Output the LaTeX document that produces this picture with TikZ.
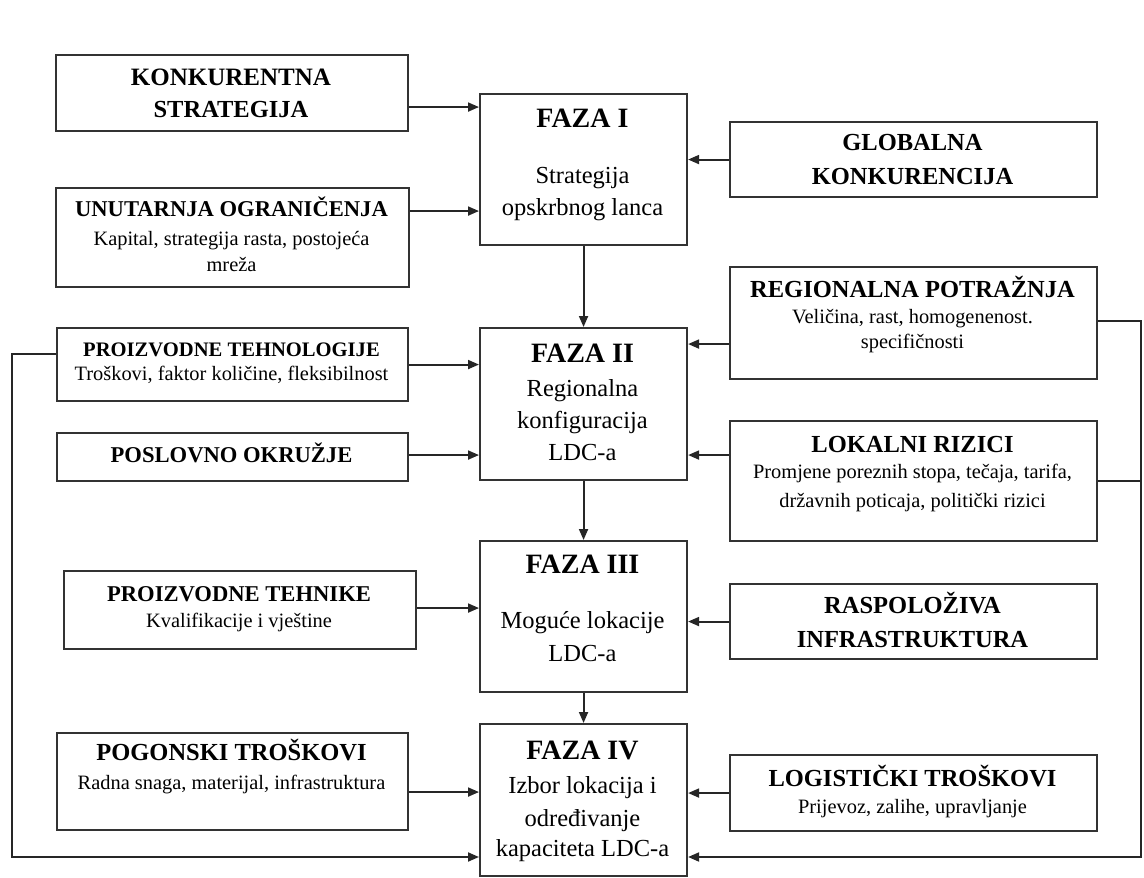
\documentclass[tikz,border=0pt]{standalone}
\usepackage{fontspec}
\setmainfont{Liberation Serif}
\usetikzlibrary{arrows.meta}
\tikzset{
  box/.style={draw=black!80, line width=2.1pt, inner sep=0pt, anchor=north west},
  hd/.style={font=\fontsize{#1}{#1}\selectfont\bfseries, anchor=base, inner sep=0pt},
  tx/.style={font=\fontsize{#1}{#1}\selectfont, anchor=base, inner sep=0pt},
  ln/.style={draw=black!85, line width=1.9pt},
  arr/.style={ln, -{Triangle[length=11pt,width=9pt]}}
}
\newcommand\bx[5]{\node[box, minimum width={#4pt-#2pt}, minimum height={#5pt-#3pt}] (#1) at (#2,#3) {};}
\begin{document}
\begin{tikzpicture}[x=1pt,y=-1pt]
\useasboundingbox (0,0) rectangle (1144,878);
% boxes
\bx{konk}{55}{54}{407}{130}
\bx{unut}{55}{187}{408}{286}
\bx{faza1}{479}{93}{686}{244}
\bx{glob}{729}{121}{1096}{196}
\bx{reg}{729}{266}{1096}{378}
\bx{ptehn}{56}{327}{407}{400}
\bx{faza2}{479}{327}{686}{479}
\bx{posl}{56}{432}{407}{480}
\bx{lok}{729}{420}{1096}{540}
\bx{faza3}{479}{540}{686}{691}
\bx{ptehnike}{63}{570}{415}{648}
\bx{rasp}{729}{583}{1096}{658}
\bx{faza4}{479}{723}{686}{875}
\bx{pog}{56}{732}{407}{829}
\bx{log}{729}{754}{1096}{830}
% texts
\node[hd=25] (konkA) at (231,85) {KONKURENTNA};
\node[hd=24.5] (konkB) at (231,117) {STRATEGIJA};
\node[hd=22.6] (unutA) at (231.5,216) {UNUTARNJA OGRANIČENJA};
\node[tx=20.4] (unutB) at (231.5,245) {Kapital, strategija rasta, postojeća};
\node[tx=20.4] (unutC) at (231.5,271) {mreža};
\node[hd=28] (f1A) at (582.5,127) {FAZA I};
\node[tx=24.5] (f1B) at (582.5,183) {Strategija};
\node[tx=24.5] (f1C) at (582.5,215) {opskrbnog lanca};
\node[hd=24.5] (globA) at (912.5,150) {GLOBALNA};
\node[hd=24.5] (globB) at (912.5,184) {KONKURENCIJA};
\node[hd=28] (f2A) at (582.5,362) {FAZA II};
\node[tx=24.5] (f2B) at (582.5,396) {Regionalna};
\node[tx=24.5] (f2C) at (582.5,428) {konfiguracija};
\node[tx=24.5] (f2D) at (582.5,460) {LDC-a};
\node[hd=24.5] (regA) at (912.5,297) {REGIONALNA POTRAŽNJA};
\node[tx=20.4] (regB) at (912.5,323) {Veličina, rast, homogenenost.};
\node[tx=20.4] (regC) at (912.5,348) {specifičnosti};
\node[hd=24.5] (lokA) at (912.5,452) {LOKALNI RIZICI};
\node[tx=20.4] (lokB) at (912.5,478) {Promjene poreznih stopa, tečaja, tarifa,};
\node[tx=20.4] (lokC) at (912.5,507) {državnih poticaja, politički rizici};
\node[hd=20.6] (ptehnA) at (231.5,356) {PROIZVODNE TEHNOLOGIJE};
\node[tx=20.4] (ptehnB) at (231.5,380) {Troškovi, faktor količine, fleksibilnost};
\node[hd=22.6] (poslA) at (231.5,462) {POSLOVNO OKRUŽJE};
\node[hd=28] (f3A) at (582.5,573) {FAZA III};
\node[tx=24.5] (f3B) at (582.5,628) {Moguće lokacije};
\node[tx=24.5] (f3C) at (582.5,661) {LDC-a};
\node[hd=22.6] (pteA) at (239,601) {PROIZVODNE TEHNIKE};
\node[tx=20.4] (pteB) at (239,627) {Kvalifikacije i vještine};
\node[hd=24.5] (raspA) at (912.5,613) {RASPOLOŽIVA};
\node[hd=24.5] (raspB) at (912.5,647) {INFRASTRUKTURA};
\node[hd=28] (f4A) at (582.5,759) {FAZA IV};
\node[tx=24.5] (f4B) at (582.5,793) {Izbor lokacija i};
\node[tx=24.5] (f4C) at (582.5,826) {određivanje};
\node[tx=24.5] (f4D) at (582.5,856) {kapaciteta LDC-a};
\node[hd=24.5] (pogA) at (231.5,760) {POGONSKI TROŠKOVI};
\node[tx=20.4] (pogB) at (231.5,789) {Radna snaga, materijal, infrastruktura};
\node[hd=24.5] (logA) at (912.5,786) {LOGISTIČKI TROŠKOVI};
\node[tx=20.4] (logB) at (912.5,813) {Prijevoz, zalihe, upravljanje};
% vertical flow
\draw[arr] (faza1.south) -- (faza2.north);
\draw[arr] (faza2.south) -- (faza3.north);
\draw[arr] (faza3.south) -- (faza4.north);
% inputs
\draw[arr] ([yshift=-14pt]konk.east) coordinate (a1) -- (a1 -| faza1.west);
\draw[arr] ([yshift=26.5pt]unut.east) coordinate (a2) -- (a2 -| faza1.west);
\draw[arr] (glob.west) -- (glob.west -| faza1.east);
\draw[arr] (ptehn.east) -- (ptehn.east -| faza2.west);
\draw[arr] ([yshift=2pt]posl.east) coordinate (a3) -- (a3 -| faza2.west);
\draw[arr] ([yshift=-21pt]reg.west) coordinate (a4) -- (a4 -| faza2.east);
\draw[arr] ([yshift=26pt]lok.west) coordinate (a5) -- (a5 -| faza2.east);
\draw[arr] ([yshift=2pt]ptehnike.east) coordinate (a6) -- (a6 -| faza3.west);
\draw[arr] (rasp.west) -- (rasp.west -| faza3.east);
\draw[arr] ([yshift=-10.5pt]pog.east) coordinate (a7) -- (a7 -| faza4.west);
\draw[arr] (log.west) -- (log.west -| faza4.east);
% feedback loops
\coordinate (xl) at (12,857);
\coordinate (xr) at (1141,857);
\draw[arr] ([yshift=10.5pt]ptehn.west) -| (xl) -- (xl -| faza4.west);
\draw[arr] ([yshift=2pt]reg.east) -| (xr) -- (xr -| faza4.east);
\draw[ln] (lok.east) -- (lok.east -| xr);
\end{tikzpicture}
\end{document}
